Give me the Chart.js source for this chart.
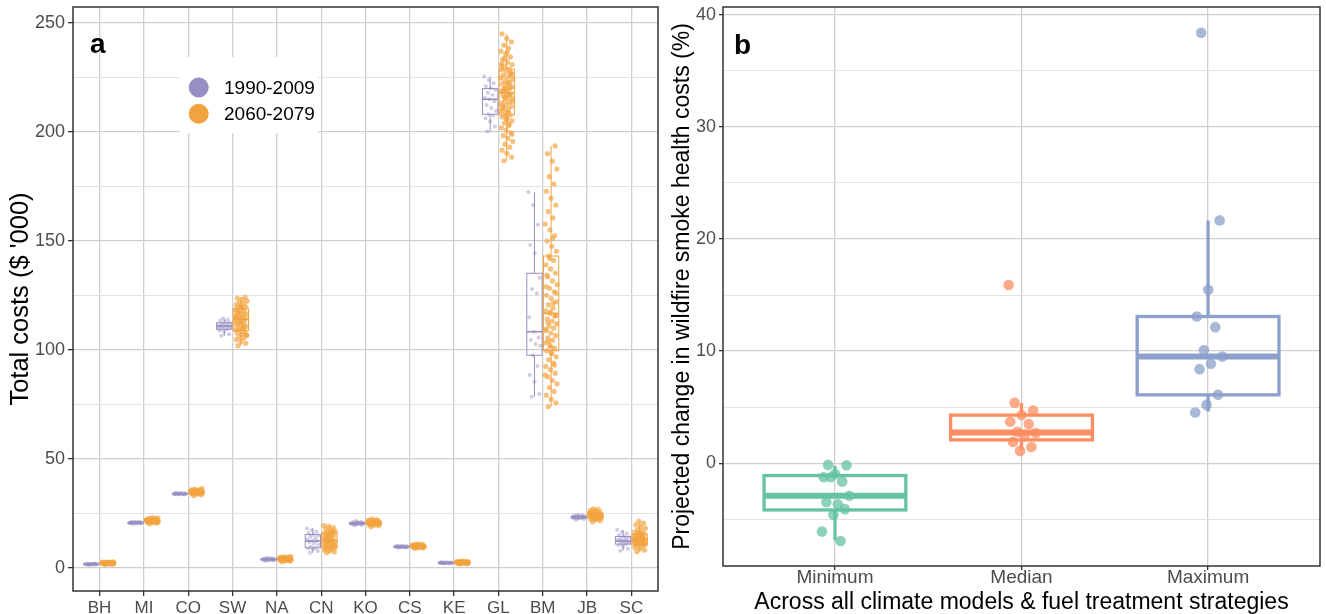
<!DOCTYPE html>
<html>
<head>
<meta charset="utf-8">
<script src="https://cdn.jsdelivr.net/npm/chart.js@4.4.1/dist/chart.umd.min.js"></script>
<style>
  html, body { margin: 0; padding: 0; background: #fff; }
  #wrap { position: relative; width: 1326px; height: 614px; overflow: hidden; }
  canvas { position: absolute; top: 0; }
  #costs { left: 0; }
  #change { left: 662px; }
</style>
</head>
<body>
<div id="wrap">
  <canvas id="costs" width="662" height="614"></canvas>
  <canvas id="change" width="664" height="614"></canvas>
</div>
<script>
// ---- panel a: total costs ($ '000) by region, two periods ----
const REGIONS = ["BH", "MI", "CO", "SW", "NA", "CN", "KO", "CS", "KE", "GL", "BM", "JB", "SC"];
const PERIODS = ["1990-2009", "2060-2079"];

// box stats (whisker low, q1, median, q3, whisker high)
const EARLY_LO  = [1.5, 20.3, 33.7, 106.5, 3.3, 7.0, 19.5, 9.3, 2.1, 200.2, 78.6, 22.2, 8.0];
const EARLY_Q1  = [1.7, 20.6, 34.0, 109.5, 3.8, 9.3, 20.2, 9.6, 2.3, 208.1, 97.6, 23.0, 11.0];
const EARLY_MED = [1.8, 20.8, 34.1, 111.0, 4.0, 12.4, 20.5, 9.8, 2.4, 215.0, 108.4, 23.4, 12.4];
const EARLY_Q3  = [1.9, 21.0, 34.2, 112.5, 4.2, 15.4, 20.9, 10.0, 2.5, 219.9, 135.2, 23.8, 14.5];
const EARLY_HI  = [2.1, 21.3, 34.5, 114.5, 4.7, 18.2, 21.7, 10.3, 2.8, 225.4, 172.5, 24.5, 17.5];

const LATE_LO  = [1.6, 20.3, 33.2, 102.0, 2.9, 7.0, 19.0, 9.0, 1.9, 186.8, 74.0, 21.2, 7.5];
const LATE_Q1  = [2.1, 21.2, 34.4, 108.9, 3.7, 9.8, 20.3, 9.7, 2.4, 207.8, 99.7, 23.0, 11.0];
const LATE_MED = [2.3, 21.7, 34.9, 114.1, 4.1, 12.8, 20.8, 10.1, 2.6, 218.0, 116.8, 24.1, 13.2];
const LATE_Q3  = [2.5, 22.2, 35.4, 118.9, 4.6, 16.2, 21.4, 10.5, 2.8, 228.8, 143.1, 25.3, 15.6];
const LATE_HI  = [2.9, 23.2, 36.5, 124.2, 5.4, 19.5, 22.5, 11.0, 3.2, 245.0, 193.6, 27.2, 21.5];

// individual runs (estimated from the jittered dots)
const EARLY_PTS = [
  [1.5, 1.6, 1.6, 1.7, 1.7, 1.7, 1.8, 1.8, 1.8, 1.8, 1.8, 1.9, 1.9, 1.9, 1.9, 2.0, 2.0, 2.1, 1.7, 1.8],
  [20.3, 20.4, 20.5, 20.6, 20.6, 20.7, 20.7, 20.8, 20.8, 20.8, 20.8, 20.9, 20.9, 21.0, 21.0, 21.0, 21.1, 21.2, 21.3, 20.6],
  [33.7, 33.8, 33.9, 34.0, 34.0, 34.0, 34.1, 34.1, 34.1, 34.1, 34.2, 34.2, 34.2, 34.3, 34.3, 34.4, 34.5, 34.0, 34.1, 33.9],
  [106.5, 107.2, 108.3, 109.0, 109.5, 109.8, 110.2, 110.6, 110.8, 111.0, 111.1, 111.4, 111.8, 112.2, 112.5, 112.9, 113.4, 114.0, 114.5, 110.5],
  [3.3, 3.5, 3.6, 3.7, 3.8, 3.8, 3.9, 3.9, 4.0, 4.0, 4.0, 4.1, 4.1, 4.2, 4.2, 4.3, 4.4, 4.5, 4.7, 3.9],
  [7.0, 7.8, 8.6, 9.1, 9.3, 9.9, 10.6, 11.3, 12.0, 12.4, 12.6, 13.1, 13.8, 14.5, 15.0, 15.4, 16.1, 16.8, 17.5, 18.2],
  [19.5, 19.8, 20.0, 20.1, 20.2, 20.3, 20.4, 20.4, 20.5, 20.5, 20.6, 20.6, 20.7, 20.8, 20.9, 21.0, 21.1, 21.3, 21.7, 20.5],
  [9.3, 9.4, 9.5, 9.6, 9.6, 9.7, 9.7, 9.8, 9.8, 9.8, 9.9, 9.9, 10.0, 10.0, 10.1, 10.2, 10.3, 9.7, 9.9, 9.8],
  [2.1, 2.2, 2.2, 2.3, 2.3, 2.3, 2.4, 2.4, 2.4, 2.4, 2.5, 2.5, 2.5, 2.6, 2.6, 2.7, 2.8, 2.4, 2.3, 2.5],
  [200.2, 202.5, 204.8, 206.3, 207.5, 208.1, 209.6, 211.0, 212.4, 214.1, 215.0, 215.8, 216.9, 218.0, 219.2, 219.9, 221.0, 222.3, 223.8, 225.4],
  [78.6, 79.8, 85.5, 88.5, 92.7, 97.6, 102.0, 102.8, 104.6, 105.8, 108.4, 115.0, 126.0, 128.0, 133.2, 144.4, 148.2, 157.5, 166.4, 172.5],
  [22.2, 22.5, 22.7, 22.9, 23.0, 23.1, 23.2, 23.3, 23.3, 23.4, 23.4, 23.5, 23.6, 23.7, 23.8, 23.9, 24.1, 24.3, 24.5, 23.2],
  [8.0, 8.9, 9.8, 10.5, 11.0, 11.4, 11.8, 12.1, 12.3, 12.4, 12.6, 12.9, 13.3, 13.8, 14.2, 14.5, 15.1, 15.9, 16.6, 17.5]
];

const LATE_PTS = [
  [1.6, 1.8, 1.9, 2.0, 2.0, 2.1, 2.1, 2.1, 2.2, 2.2, 2.2, 2.3, 2.3, 2.3, 2.3, 2.3, 2.4, 2.4, 2.4, 2.5, 2.5, 2.5, 2.6, 2.6, 2.7, 2.7, 2.8, 2.9, 2.2, 2.4],
  [20.3, 20.6, 20.8, 21.0, 21.1, 21.2, 21.2, 21.3, 21.4, 21.5, 21.5, 21.6, 21.6, 21.7, 21.7, 21.7, 21.8, 21.9, 21.9, 22.0, 22.1, 22.2, 22.2, 22.3, 22.5, 22.6, 22.8, 23.0, 23.2, 21.4],
  [33.2, 33.6, 33.9, 34.1, 34.3, 34.4, 34.4, 34.5, 34.6, 34.7, 34.8, 34.8, 34.9, 34.9, 35.0, 35.0, 35.1, 35.2, 35.3, 35.4, 35.4, 35.5, 35.6, 35.7, 35.9, 36.0, 36.2, 36.5, 34.6, 35.1],
  [102.0, 103.1, 104.0, 104.8, 105.5, 106.1, 106.7, 107.2, 107.8, 108.3, 108.9, 109.3, 109.8, 110.2, 110.7, 111.1, 111.6, 112.0, 112.4, 112.9,
   113.3, 113.7, 114.1, 114.5, 114.9, 115.3, 115.8, 116.2, 116.6, 117.0, 117.5, 117.9, 118.4, 118.9, 119.3, 119.8, 120.3, 120.8, 121.3, 121.9,
   122.5, 123.1, 123.7, 124.2, 113.0, 115.5, 110.0, 117.2, 106.9, 119.6],
  [2.9, 3.2, 3.4, 3.5, 3.6, 3.7, 3.7, 3.8, 3.9, 3.9, 4.0, 4.0, 4.1, 4.1, 4.1, 4.2, 4.3, 4.3, 4.4, 4.5, 4.6, 4.6, 4.7, 4.8, 4.9, 5.0, 5.2, 5.4, 3.8, 4.4],
  [7.0, 7.4, 7.9, 8.3, 8.8, 9.2, 9.5, 9.8, 10.1, 10.4, 10.8, 11.1, 11.5, 11.9, 12.2, 12.5, 12.8, 13.1, 13.5, 13.8,
   14.2, 14.6, 15.0, 15.4, 15.8, 16.2, 16.6, 17.0, 17.5, 18.0, 18.6, 19.1, 19.5, 12.0, 13.3, 10.6, 14.9, 9.0, 16.9, 11.7],
  [19.0, 19.4, 19.7, 19.9, 20.1, 20.2, 20.3, 20.4, 20.5, 20.6, 20.7, 20.8, 20.8, 20.9, 21.0, 21.0, 21.1, 21.2, 21.3, 21.4, 21.5, 21.6, 21.7, 21.9, 22.0, 22.2, 22.5, 20.8, 21.1, 20.4],
  [9.0, 9.2, 9.4, 9.5, 9.6, 9.7, 9.7, 9.8, 9.9, 10.0, 10.0, 10.1, 10.1, 10.2, 10.2, 10.3, 10.4, 10.5, 10.5, 10.6, 10.7, 10.8, 10.9, 11.0, 9.9, 10.1, 10.3, 9.8, 10.4, 10.0],
  [1.9, 2.0, 2.1, 2.2, 2.3, 2.3, 2.4, 2.4, 2.5, 2.5, 2.5, 2.6, 2.6, 2.6, 2.7, 2.7, 2.7, 2.8, 2.8, 2.9, 2.9, 3.0, 3.1, 3.2, 2.6, 2.4, 2.7, 2.5, 2.8, 2.6],
  [186.8, 188.5, 190.2, 191.6, 193.0, 194.4, 195.7, 197.1, 198.3, 199.6, 200.8, 201.9, 203.0, 204.1, 205.1, 206.0, 206.9, 207.8, 208.6, 209.4,
   210.2, 211.0, 211.7, 212.5, 213.2, 213.9, 214.6, 215.3, 216.0, 216.6, 217.3, 218.0, 218.6, 219.3, 220.0, 220.7, 221.4, 222.1, 222.8, 223.6,
   224.3, 225.1, 225.9, 226.7, 227.6, 228.4, 228.8, 229.8, 230.9, 232.0, 233.2, 234.4, 235.7, 237.0, 238.4, 239.8, 241.3, 242.9, 245.0, 217.1,
   219.8, 214.0, 222.5, 210.7, 226.2, 207.3, 230.3, 203.6, 233.8, 199.0, 236.5, 212.0, 220.3, 215.7, 224.7, 209.0, 218.9, 227.0, 205.6, 231.4],
  [74.0, 75.8, 77.5, 79.3, 81.0, 82.8, 84.5, 86.1, 87.8, 89.4, 91.0, 92.5, 94.0, 95.5, 96.9, 98.3, 99.7, 100.9, 102.1, 103.3,
   104.5, 105.6, 106.7, 107.8, 108.9, 110.0, 111.0, 112.1, 113.2, 114.3, 115.5, 116.8, 118.0, 119.3, 120.7, 122.1, 123.6, 125.1, 126.7, 128.3,
   130.0, 131.7, 133.5, 135.3, 137.2, 139.1, 141.1, 143.1, 145.3, 147.6, 150.0, 152.5, 155.1, 157.8, 160.6, 163.5, 166.5, 169.6, 172.8, 176.1,
   179.5, 183.0, 186.6, 190.1, 193.6, 117.5, 109.5, 121.4, 104.0, 126.0, 98.8, 134.4, 93.1, 142.0, 88.6, 151.2, 112.6, 115.9, 101.5, 129.1],
  [21.2, 21.7, 22.1, 22.4, 22.7, 22.9, 23.0, 23.2, 23.4, 23.6, 23.8, 23.9, 24.0, 24.1, 24.2, 24.4, 24.6, 24.8, 25.0, 25.2, 25.3, 25.5, 25.8, 26.1, 26.5, 26.9, 27.2, 24.3, 23.7, 24.9],
  [7.5, 8.2, 8.9, 9.5, 10.0, 10.5, 11.0, 11.3, 11.6, 11.9, 12.2, 12.5, 12.8, 13.0, 13.2, 13.4, 13.7, 14.0, 14.3, 14.6,
   14.9, 15.2, 15.6, 16.0, 16.5, 17.0, 17.6, 18.3, 19.0, 19.8, 20.6, 21.5, 13.1, 12.0, 14.5, 11.1, 15.8, 10.7, 13.9, 12.7]
];

const COST_TICKS = [0, 50, 100, 150, 200, 250];
const COST_MINOR = [25, 75, 125, 175, 225];

// ---- panel b: projected change (%) ----
const STRATEGIES = ["Minimum", "Median", "Maximum"];
const CHG_LO  = [-6.85, 1.19, 4.61];
const CHG_Q1  = [-4.17, 2.08, 6.1];
const CHG_MED = [-2.9, 2.73, 9.52];
const CHG_Q3  = [-1.1, 4.29, 13.09];
const CHG_HI  = [-0.25, 5.36, 21.66];
const CHG_PTS = [
  [-0.15, -0.18, -0.96, -1.25, -1.64, -1.25, -2.9, -3.66, -3.48, -4.1, -4.6, -6.1, -6.94],
  [5.4, 4.7, 4.3, 3.7, 3.5, 2.8, 2.7, 2.4, 1.9, 1.45, 1.1, 15.9],
  [38.4, 21.66, 15.47, 13.09, 12.14, 10.1, 9.52, 8.87, 8.39, 6.1, 5.2, 4.52]
];
const CHG_TICKS = [0, 10, 20, 30, 40];
const CHG_MINOR = [-5, 5, 15, 25, 35];

// ---- styling ----
const FONT = "'Liberation Sans', Arial, sans-serif";
const TICK_GREY = "#4d4d4d";
const GRID_MAJOR = "#cfcfcf";
const GRID_MINOR = "#e2e2e2";
const PURPLE = "#998ec3";
const ORANGE = "#f1a340";
const SET2 = ["#66c2a5", "#fc8d62", "#8da0cb"];

const rgba = (hex, a) => {
  const n = parseInt(hex.slice(1), 16);
  return `rgba(${(n >> 16) & 255}, ${(n >> 8) & 255}, ${n & 255}, ${a})`;
};

// deterministic horizontal spread for the dots (golden-ratio sequence)
const jitter = (i, w) => (((i * 0.618034 + 0.27) % 1) * 2 - 1) * w;

const drawBoxes = (chart, boxes) => {
  const { ctx, scales: { x, y } } = chart;
  const py = (v) => y.getPixelForValue(v);
  ctx.save();
  boxes.forEach((b) => {
    const xl = x.getPixelForValue(b.x - b.half);
    const xr = x.getPixelForValue(b.x + b.half);
    const xc = x.getPixelForValue(b.x);
    ctx.strokeStyle = b.color;
    ctx.lineWidth = b.lw;
    ctx.beginPath();
    ctx.moveTo(xc, py(b.hi));
    ctx.lineTo(xc, py(b.q3));
    ctx.moveTo(xc, py(b.q1));
    ctx.lineTo(xc, py(b.lo));
    ctx.stroke();
    ctx.strokeRect(xl, py(b.q3), xr - xl, py(b.q1) - py(b.q3));
    ctx.lineWidth = b.medLw;
    ctx.beginPath();
    ctx.moveTo(xl, py(b.med));
    ctx.lineTo(xr, py(b.med));
    ctx.stroke();
  });
  ctx.restore();
};

const drawFrame = (chart) => {
  const { ctx, chartArea: a } = chart;
  ctx.save();
  ctx.strokeStyle = "#333333";
  ctx.lineWidth = 1.5;
  ctx.strokeRect(a.left, a.top, a.right - a.left, a.bottom - a.top);
  ctx.restore();
};

const drawLetter = (chart, letter, x, y) => {
  const { ctx } = chart;
  ctx.save();
  ctx.fillStyle = "#000";
  ctx.font = `bold 28px ${FONT}`;
  ctx.textBaseline = "alphabetic";
  ctx.fillText(letter, x, y);
  ctx.restore();
};

const yAxis = (min, max, major, minor, o) => ({
  type: "linear",
  min,
  max,
  bounds: "data",
  afterBuildTicks: (s) => {
    s.ticks = [...minor, ...major].sort((a, b) => a - b).map((v) => ({ value: v }));
  },
  afterFit: (s) => {
    s.width = o.width;
    s.paddingTop = 0;
    s.paddingBottom = 0;
  },
  ticks: {
    autoSkip: false,
    padding: o.tickPad,
    color: TICK_GREY,
    font: { family: FONT, size: o.tickSize },
    callback: (v) => (major.includes(v) ? String(v) : "")
  },
  grid: {
    color: (c) => (major.includes(c.tick && c.tick.value) ? GRID_MAJOR : GRID_MINOR),
    lineWidth: (c) => (major.includes(c.tick && c.tick.value) ? 1.3 : 1),
    tickColor: (c) => (major.includes(c.tick && c.tick.value) ? "#333333" : "rgba(0,0,0,0)"),
    tickLength: o.tickLen
  },
  border: { display: false },
  title: {
    display: true,
    text: o.title,
    color: "#000",
    font: { family: FONT, size: o.titleSize },
    padding: { top: o.titlePad, bottom: 0 }
  }
});

const xAxis = (min, max, labels, o) => ({
  type: "linear",
  min,
  max,
  bounds: "data",
  afterBuildTicks: (s) => {
    s.ticks = labels.map((_, i) => ({ value: i + 1 }));
  },
  afterFit: (s) => {
    s.height = o.height;
    s.paddingLeft = 0;
    s.paddingRight = 0;
  },
  ticks: {
    autoSkip: false,
    maxRotation: 0,
    minRotation: 0,
    padding: o.tickPad,
    color: TICK_GREY,
    font: { family: FONT, size: o.tickSize, lineHeight: o.tickLineHeight || 1.2 },
    callback: (v, i) => labels[i]
  },
  grid: { color: GRID_MAJOR, lineWidth: 1.3, tickColor: "#333333", tickLength: o.tickLen },
  border: { display: false },
  title: o.title
    ? {
        display: true,
        text: o.title,
        color: "#000",
        font: { family: FONT, size: o.titleSize, lineHeight: 1 },
        padding: { top: 0, bottom: 0 }
      }
    : { display: false }
});

// ---- panel a ----
const DODGE = 0.1875;
const costPoints = (pts, side) =>
  pts.flatMap((vals, r) => vals.map((v, i) => ({ x: r + 1 + side + jitter(i, 0.14), y: v })));

const costBoxes = [];
REGIONS.forEach((_, r) => {
  costBoxes.push({
    x: r + 1 - DODGE, half: 0.173, color: PURPLE, lw: 1, medLw: 1.6,
    lo: EARLY_LO[r], q1: EARLY_Q1[r], med: EARLY_MED[r], q3: EARLY_Q3[r], hi: EARLY_HI[r]
  });
  costBoxes.push({
    x: r + 1 + DODGE, half: 0.173, color: ORANGE, lw: 1, medLw: 1.6,
    lo: LATE_LO[r], q1: LATE_Q1[r], med: LATE_MED[r], q3: LATE_Q3[r], hi: LATE_HI[r]
  });
});

new Chart(document.getElementById("costs"), {
  type: "scatter",
  data: {
    datasets: [
      { label: PERIODS[0], data: costPoints(EARLY_PTS, -DODGE), pointRadius: 2, borderWidth: 0, backgroundColor: rgba(PURPLE, 0.45) },
      { label: PERIODS[1], data: costPoints(LATE_PTS, DODGE), pointRadius: 2.6, borderWidth: 0, backgroundColor: rgba(ORANGE, 0.68) }
    ]
  },
  options: {
    responsive: false,
    animation: false,
    events: [],
    layout: { padding: { left: 0, top: 7, right: 4, bottom: 0 } },
    plugins: { legend: { display: false }, tooltip: { enabled: false } },
    scales: {
      x: xAxis(0.4, 13.6, REGIONS, { height: 23, tickPad: 2, tickSize: 17, tickLen: 5 }),
      y: yAxis(-10.5, 257.3, COST_TICKS, COST_MINOR, {
        width: 73, tickPad: 3, tickSize: 18, tickLen: 5,
        title: "Total costs ($ '000)", titleSize: 25.5, titlePad: 6
      })
    }
  },
  plugins: [{
    id: "costDecor",
    afterDatasetsDraw: (chart) => drawBoxes(chart, costBoxes),
    afterDraw: (chart) => {
      drawFrame(chart);
      drawLetter(chart, "a", 90, 53);
      const { ctx } = chart;
      ctx.save();
      ctx.fillStyle = "#fff";
      ctx.fillRect(180, 57, 138, 76);
      [PURPLE, ORANGE].forEach((c, i) => {
        const cy = 87.5 + i * 26.3;
        ctx.fillStyle = c;
        ctx.beginPath();
        ctx.arc(198.7, cy, 10, 0, Math.PI * 2);
        ctx.fill();
        ctx.fillStyle = "#000";
        ctx.font = `19px ${FONT}`;
        ctx.textBaseline = "middle";
        ctx.fillText(PERIODS[i], 224, cy + 1);
      });
      ctx.restore();
    }
  }]
});

// ---- panel b ----
const chgBoxes = STRATEGIES.map((_, k) => ({
  x: k + 1, half: 0.38, color: SET2[k], lw: 3.3, medLw: 6,
  lo: CHG_LO[k], q1: CHG_Q1[k], med: CHG_MED[k], q3: CHG_Q3[k], hi: CHG_HI[k]
}));

new Chart(document.getElementById("change"), {
  type: "scatter",
  data: {
    datasets: STRATEGIES.map((name, k) => ({
      label: name,
      data: CHG_PTS[k].map((v, i) => ({ x: k + 1 + jitter(i, 0.08), y: v })),
      pointRadius: 5.3,
      borderWidth: 0,
      backgroundColor: rgba(SET2[k], 0.75)
    }))
  },
  options: {
    responsive: false,
    animation: false,
    events: [],
    layout: { padding: { left: 0, top: 7, right: 6, bottom: 0 } },
    plugins: { legend: { display: false }, tooltip: { enabled: false } },
    scales: {
      x: xAxis(0.4, 3.6, STRATEGIES, {
        height: 48, tickPad: -1.5, tickSize: 19, tickLen: 4, tickLineHeight: 1,
        title: "Across all climate models & fuel treatment strategies", titleSize: 23
      }),
      y: yAxis(-9.17, 40.7, CHG_TICKS, CHG_MINOR, {
        width: 61, tickPad: 3, tickSize: 18, tickLen: 4,
        title: "Projected change in wildfire smoke health costs (%)", titleSize: 23, titlePad: 7
      })
    }
  },
  plugins: [{
    id: "changeDecor",
    beforeDatasetsDraw: (chart) => drawBoxes(chart, chgBoxes),
    afterDraw: (chart) => {
      drawFrame(chart);
      drawLetter(chart, "b", 72, 53.6);
    }
  }]
});
</script>
</body>
</html>
